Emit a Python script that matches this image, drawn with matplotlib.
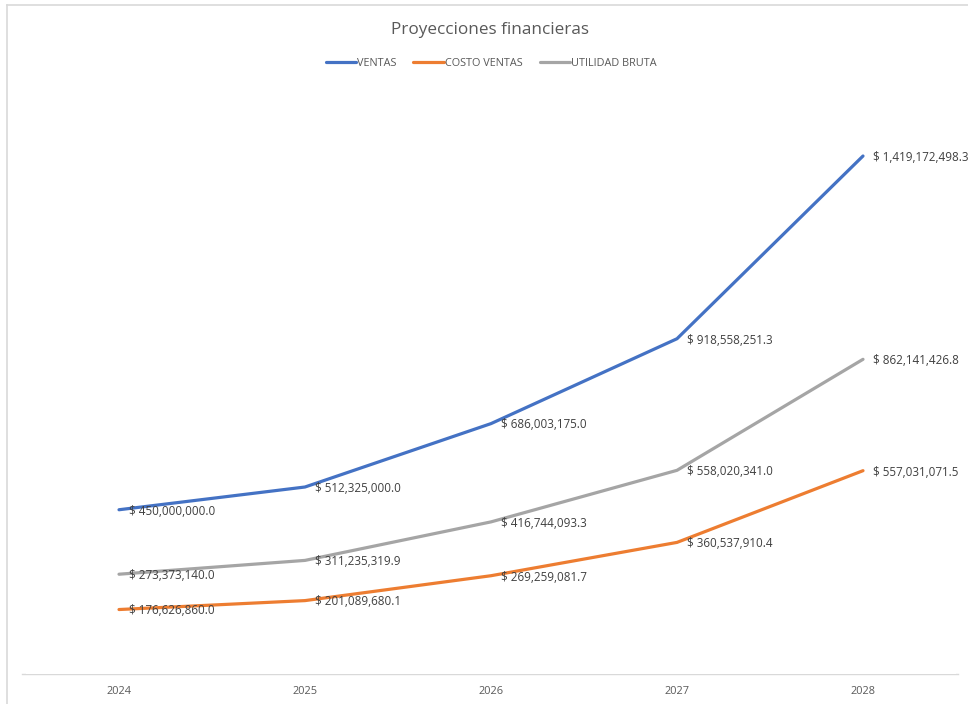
import matplotlib
matplotlib.use("Agg")
import matplotlib.pyplot as plt
from matplotlib.lines import Line2D

years = ["2024", "2025", "2026", "2027", "2028"]
ventas = [450000000.0, 512325000.0, 686003175.0, 918558251.3, 1419172498.3]
costo_ventas = [176626860.0, 201089680.1, 269259081.7, 360537910.4, 557031071.5]
utilidad_bruta = [273373140.0, 311235319.9, 416744093.3, 558020341.0, 862141426.8]

series = [
    ("VENTAS", ventas, "#4472C4"),
    ("COSTO VENTAS", costo_ventas, "#ED7D31"),
    ("UTILIDAD BRUTA", utilidad_bruta, "#A5A5A5"),
]

plt.rcParams["font.family"] = ["Open Sans", "DejaVu Sans"]

W, H = 968, 704
fig = plt.figure(figsize=(W / 100, H / 100), dpi=100)

# chart frame (left and top edges)
fig.add_artist(Line2D([7 / W, 7 / W], [0, 1 - 5 / H], color="#D9D9D9", lw=1.2))
fig.add_artist(Line2D([7 / W, 1], [1 - 5 / H, 1 - 5 / H], color="#D9D9D9", lw=1.2))

ax = fig.add_axes([26 / W, (H - 674) / H, (956 - 26) / W, (674 - 90) / H])
x = list(range(len(years)))

# category axis line, slightly wider than the plotting area
fig.add_artist(Line2D([22 / W, 958 / W], [(H - 674) / H, (H - 674) / H],
                      color="#D9D9D9", lw=1.0, zorder=0))

for name, vals, color in series:
    ax.plot(x, vals, color=color, lw=2.3, solid_capstyle="round", label=name)

for name, vals, color in series:
    for xi, v in zip(x, vals):
        ax.annotate(f"$ {v:,.1f}", (xi, v), xytext=(7.5, -1), textcoords="offset points",
                    ha="left", va="center", fontsize=8.4, color="#404040",
                    annotation_clip=False)

ax.set_xlim(-0.5, len(years) - 0.5)
ax.set_ylim(0, 1600000000)
ax.set_xticks(x)
ax.set_xticklabels(years, fontsize=7.9, color="#595959")
ax.set_yticks([])
ax.tick_params(axis="x", length=0, pad=9)
for side in ["top", "right", "left", "bottom"]:
    ax.spines[side].set_visible(False)

fig.text(490 / W, 1 - 30 / H, "Proyecciones financieras", ha="center", va="center",
         fontsize=12.3, color="#595959")

leg = fig.legend(loc="center", bbox_to_anchor=(491 / W, 1 - 63 / H), ncol=3,
                 frameon=False, fontsize=7.8, handlelength=2.8, handletextpad=0.08,
                 columnspacing=1.6, labelcolor="#595959")

fig.savefig("out.png", dpi=100)
